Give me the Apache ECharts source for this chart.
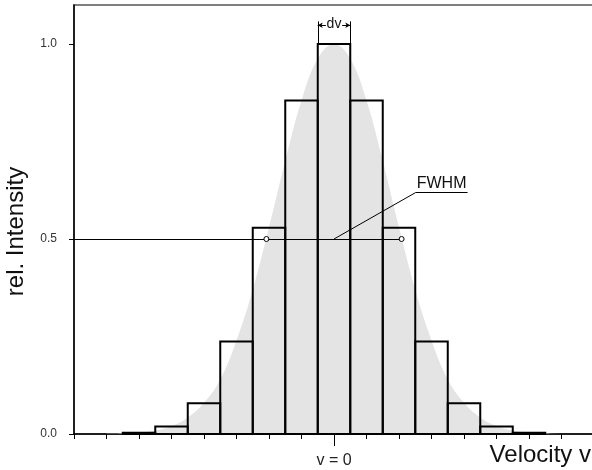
<!DOCTYPE html>
<html>
<head>
<meta charset="utf-8">
<script src="https://cdn.jsdelivr.net/npm/echarts@6/dist/echarts.min.js"></script>
<style>
  html, body { margin: 0; padding: 0; background: #fff; }
  #chart { width: 592px; height: 470px; }
</style>
</head>
<body>
<div id="chart"></div>
<script>
// Velocity channels (in units of the channel width dv) and sampled intensity
const binCenters = [-6, -5, -4, -3, -2, -1, 0, 1, 2, 3, 4, 5, 6];
const binIntensity = [0.003, 0.019, 0.079, 0.237, 0.529, 0.855, 1.0, 0.855, 0.529, 0.237, 0.079, 0.019, 0.003];

// Underlying continuous line profile (grey area)
const profileV = [-7, -6.5, -6, -5.5, -5, -4.5, -4, -3.5, -3, -2.5, -2, -1.5, -1, -0.5, 0,
                  0.5, 1, 1.5, 2, 2.5, 3, 3.5, 4, 4.5, 5, 5.5, 6, 6.5, 7];
const profileI = [0.0005, 0.0013, 0.0036, 0.009, 0.02, 0.042, 0.08, 0.14, 0.24, 0.37, 0.53, 0.70, 0.855, 0.962, 1.0,
                  0.962, 0.855, 0.70, 0.53, 0.37, 0.24, 0.14, 0.08, 0.042, 0.02, 0.009, 0.0036, 0.0013, 0.0005];

// Half-maximum crossing points of the profile
const halfMax = 0.5;
const fwhmEdges = [-2.08, 2.08];

// Axis ticks / labels
const yTicks = [0, 0.5, 1.0];
const xMajorTick = [0];

const FONT = 'Liberation Sans, Arial, Helvetica, sans-serif';

const chart = echarts.init(document.getElementById('chart'), null, { renderer: 'canvas' });

const profileData = profileV.map((v, i) => [v, profileI[i]]);
const binData = binCenters.map((v, i) => [v, binIntensity[i]]);

chart.setOption({
  animation: false,
  backgroundColor: '#fff',
  textStyle: { fontFamily: FONT },
  grid: {
    left: 74, right: -2, top: 5, bottom: 36,
    containLabel: false,
    outerBoundsMode: 'none',
    show: true, borderColor: '#555', borderWidth: 1.5, backgroundColor: 'transparent'
  },
  xAxis: [
    {
      type: 'value', min: -8, max: 8, interval: 1,
      axisLine: { onZero: false, lineStyle: { color: '#000', width: 1.5 } },
      axisTick: { show: true, length: 5, lineStyle: { color: '#000', width: 1 } },
      axisLabel: { show: false },
      splitLine: { show: false },
      name: 'Velocity v',
      nameLocation: 'end',
      nameGap: -3,
      nameTextStyle: {
        fontFamily: FONT, fontSize: 24, color: '#111',
        align: 'right', verticalAlign: 'top', padding: [9, 0, 0, 0]
      }
    },
    {
      type: 'value', min: -8, max: 8, interval: 1, position: 'bottom',
      axisLine: { show: false, onZero: false },
      axisTick: { show: true, customValues: xMajorTick, length: 12, lineStyle: { color: '#000', width: 1 } },
      axisLabel: {
        show: true, customValues: xMajorTick, margin: 19,
        fontFamily: FONT, fontSize: 16, color: '#222',
        formatter: () => 'v = 0'
      },
      splitLine: { show: false }
    }
  ],
  yAxis: {
    type: 'value', min: 0, max: 1.1, interval: 0.5,
    axisLine: { show: true, onZero: false, lineStyle: { color: '#000', width: 1.5 } },
    axisTick: { show: true, customValues: yTicks, length: 5, lineStyle: { color: '#000', width: 1 } },
    axisLabel: {
      customValues: yTicks, margin: 17,
      fontFamily: FONT, fontSize: 12, color: '#333',
      formatter: v => v.toFixed(1)
    },
    splitLine: { show: false },
    name: 'rel. Intensity',
    nameLocation: 'middle',
    nameGap: 46,
    nameTextStyle: { fontFamily: FONT, fontSize: 24, color: '#111', padding: [0, 24, 0, 0] }
  },
  series: [
    {
      // continuous profile
      type: 'line',
      data: profileData,
      smooth: 0.4,
      symbol: 'none',
      lineStyle: { width: 0 },
      areaStyle: { color: '#e4e4e4', opacity: 1 },
      z: 1,
      silent: true
    },
    {
      // sampled channels drawn as outlined boxes
      type: 'custom',
      data: binData,
      z: 3,
      renderItem: (params, api) => {
        const v = api.value(0);
        const h = api.value(1);
        const p0 = api.coord([v - 0.5, 0]);
        const p1 = api.coord([v + 0.5, h]);
        return {
          type: 'rect',
          shape: { x: p0[0], y: p1[1], width: p1[0] - p0[0], height: p0[1] - p1[1] },
          style: { fill: 'none', stroke: '#000', lineWidth: 2 }
        };
      }
    },
    {
      // annotations: half-maximum line, FWHM leader and channel width bracket
      type: 'line',
      data: [],
      z: 4,
      silent: true,
      markLine: {
        silent: true,
        symbol: 'none',
        animation: false,
        label: { show: false },
        lineStyle: { color: '#000', width: 1, type: 'solid' },
        data: [
          [{ coord: [-8, halfMax] }, { coord: [fwhmEdges[1], halfMax] }],
          [{ coord: [0, halfMax] }, { coord: [2.51, 0.619] }],
          [{ coord: [2.51, 0.619] }, { coord: [4.11, 0.619] }],
          [{ coord: [-0.5, 1.0] }, { coord: [-0.5, 1.058] }],
          [{ coord: [0.5, 1.0] }, { coord: [0.5, 1.058] }],
          [{ coord: [-0.25, 1.048], symbol: 'none' }, { coord: [-0.5, 1.048], symbol: 'arrow', symbolSize: [4, 5] }],
          [{ coord: [0.25, 1.048], symbol: 'none' }, { coord: [0.5, 1.048], symbol: 'arrow', symbolSize: [4, 5] }]
        ]
      },
      markPoint: {
        silent: true,
        animation: false,
        data: [
          {
            coord: [fwhmEdges[0], halfMax], symbol: 'circle', symbolSize: 5,
            itemStyle: { color: '#fff', borderColor: '#000', borderWidth: 1 }, label: { show: false }
          },
          {
            coord: [fwhmEdges[1], halfMax], symbol: 'circle', symbolSize: 5,
            itemStyle: { color: '#fff', borderColor: '#000', borderWidth: 1 }, label: { show: false }
          },
          {
            coord: [3.31, 0.619], symbol: 'circle', symbolSize: 0,
            label: {
              show: true, formatter: 'FWHM', position: 'top', distance: 1,
              fontFamily: FONT, fontSize: 16, color: '#111'
            }
          },
          {
            coord: [0, 1.05], symbol: 'circle', symbolSize: 0,
            label: {
              show: true, formatter: 'dv', position: 'inside',
              fontFamily: FONT, fontSize: 14, color: '#111'
            }
          }
        ]
      }
    }
  ]
});
</script>
</body>
</html>
